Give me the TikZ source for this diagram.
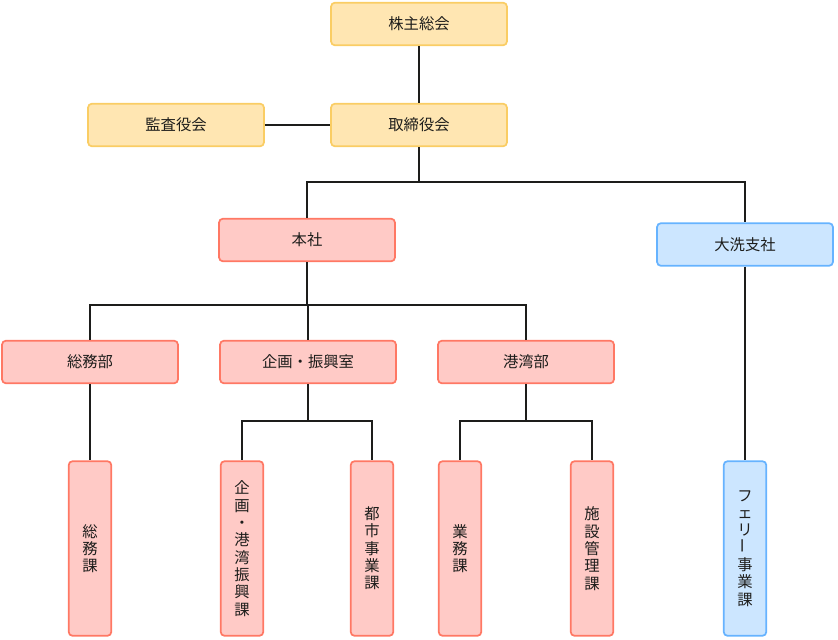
\documentclass[tikz,border=0pt]{standalone}
\usepackage{fontspec}
\usepackage{graphicx}
\setmainfont{Noto Sans CJK JP}
\usetikzlibrary{positioning}
\definecolor{colortext}   {RGB}{29 ,29 ,27 }
\definecolor{yellowfill}  {RGB}{255,230,178}
\definecolor{yellowline}  {RGB}{250,205,100}
\definecolor{pinkfill}    {RGB}{255,202,198}
\definecolor{pinkline}    {RGB}{255,120,100}
\definecolor{bluefill}    {RGB}{204,230,255}
\definecolor{blueline}    {RGB}{102,179,255}

\begin{document}
\begin{tikzpicture}[
    x=0.75pt, y=-0.75pt,
    font={\fontsize{11.5}{13}\selectfont},
    box/.style={rounded corners=3pt,line width=1.3pt,text=colortext,align=center,inner sep=0pt},
    hbox/.style={box,minimum width=132pt,minimum height=32pt},
    vbox/.style={box,minimum width=32pt,minimum height=131pt},
    ybox/.style={hbox,fill=yellowfill,draw=yellowline},
    pbox/.style={hbox,fill=pinkfill,draw=pinkline},
    bbox/.style={hbox,fill=bluefill,draw=blueline},
    pvbox/.style={vbox,fill=pinkfill,draw=pinkline},
    bvbox/.style={vbox,fill=bluefill,draw=blueline},
    link/.style={line width=1.1pt,draw=colortext},
]
    \useasboundingbox (0,0) rectangle (838,639);

    % top
    \node[ybox]  (kabunushi)   at (419,24)    {株主総会};
    \node[ybox]  (torishimari) at (419,125)   {取締役会};
    \node[ybox]  (kansa)       at (176,125)   {監査役会};

    % head office / branch
    \node[pbox]  (honsha)      at (307,240)   {本社};
    \node[bbox]  (oarai)       at (745,244.5) {大洗支社};

    % departments
    \node[pbox]  (somubu)      at (90,362)    {総務部};
    \node[pbox]  (kikaku)      at (308,362)   {企画・振興室};
    \node[pbox]  (kowan)       at (526,362)   {港湾部};

    % sections
    \node[pvbox] (somuka)      at (90,548.5)  {総\\務\\課};
    \node[pvbox] (kikakuka)    at (242,548.5) {企\\画\\・\\港\\湾\\振\\興\\課};
    \node[pvbox] (toshi)       at (372,548.5) {都\\市\\事\\業\\課};
    \node[pvbox] (gyomu)       at (460,548.5) {業\\務\\課};
    \node[pvbox] (shisetsu)    at (592,548.5) {施\\設\\管\\理\\課};
    \node[bvbox] (ferry)       at (745,548.5) {フ\\ェ\\リ\\\rotatebox{90}{ー}\\事\\業\\課};

    \coordinate (j1) at (419,182);
    \coordinate (j2) at (307,305);
    \coordinate (j3) at (308,421);
    \coordinate (j4) at (526,421);

    \draw[link] (kabunushi) -- (torishimari);
    \draw[link] (kansa) -- (torishimari);
    \draw[link] (torishimari) -- (j1) -| (honsha);
    \draw[link] (j1) -| (oarai);
    \draw[link] (honsha) -- (j2) -| (somubu);
    \draw[link] (j2) -| (kikaku);
    \draw[link] (j2) -| (kowan);
    \draw[link] (somubu) -- (somuka);
    \draw[link] (kikaku) -- (j3) -| (kikakuka);
    \draw[link] (j3) -| (toshi);
    \draw[link] (kowan) -- (j4) -| (gyomu);
    \draw[link] (j4) -| (shisetsu);
    \draw[link] (oarai) -- (ferry);

\end{tikzpicture}
\end{document}
